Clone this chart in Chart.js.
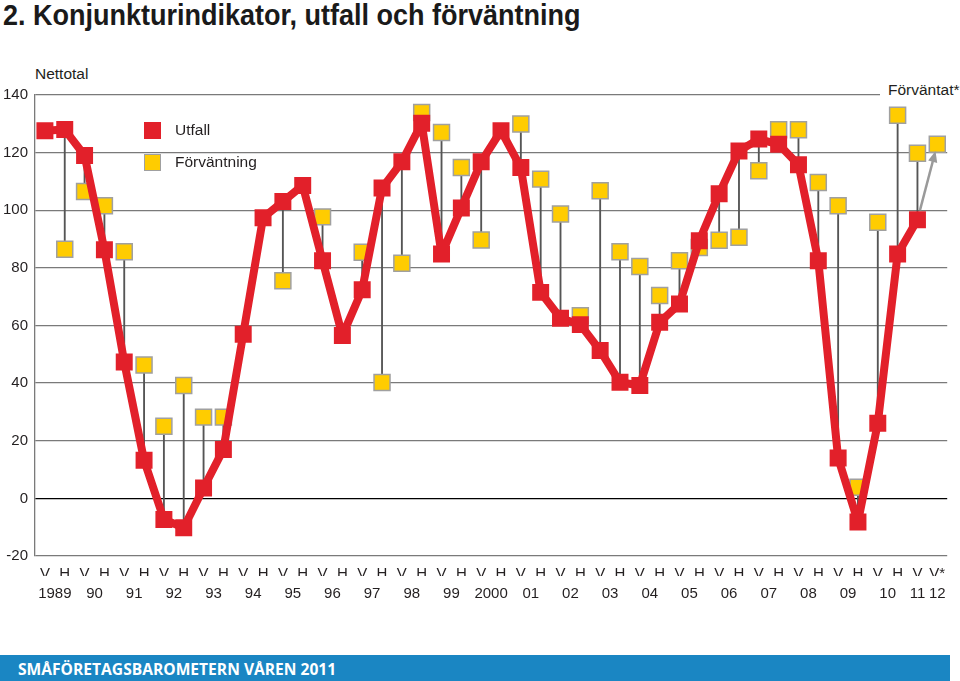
<!DOCTYPE html>
<html>
<head>
<meta charset="utf-8">
<script src="https://cdn.jsdelivr.net/npm/chart.js@4"></script>
<style>
  body { margin: 0; background: #fff; width: 960px; height: 681px; overflow: hidden; position: relative; font-family: "Liberation Sans", Arial, sans-serif; color: #231f20; }
  #c { position: absolute; left: 0; top: 0; }
  .title { position: absolute; left: 3px; top: -2px; font: bold 30px "Liberation Sans", sans-serif; color: #1a1a1a; white-space: nowrap; transform: scaleX(0.9); transform-origin: 0 0; }
  .unit { position: absolute; left: 35px; top: 65px; font-size: 15.5px; }
  .expected { position: absolute; left: 880px; top: 81px; width: 80px; padding-left: 8px; font-size: 15.5px; background: #fff; }
  .leg { position: absolute; left: 144px; font-size: 15.5px; line-height: 18px; }
  .leg span { position: absolute; left: 0; width: 17px; height: 17px; }
  .leg b { font-weight: normal; position: absolute; left: 31px; top: -1px; white-space: nowrap; }
  .footer { position: absolute; left: 0; top: 655px; width: 950px; height: 26px; background: #1a86c3; }
  .footer div { position: absolute; left: 18px; top: 3px; color: #fff; font: bold 15.6px "Open Sans", "Liberation Sans", sans-serif; white-space: nowrap; }
</style>
</head>
<body>
<div class="title">2. Konjunkturindikator, utfall och förväntning</div>
<div class="unit">Nettotal</div>
<canvas id="c" width="960" height="640"></canvas>
<div class="expected">Förväntat*</div>
<div class="leg" style="top:122px"><span style="background:#e2202a"></span><b>Utfall</b></div>
<div class="leg" style="top:154px"><span style="background:#ffcc00;border:1.5px solid #a0a0a0;width:15px;height:15px"></span><b>Förväntning</b></div>
<div class="footer"><div>SMÅFÖRETAGSBAROMETERN VÅREN 2011</div></div>
<script>
// halvår: V = vår, H = höst
var perioder = ['V','H','V','H','V','H','V','H','V','H','V','H','V','H','V','H','V','H','V','H','V','H',
                'V','H','V','H','V','H','V','H','V','H','V','H','V','H','V','H','V','H','V','H','V','H','V','V*'];
var arEtiketter = ['1989','90','91','92','93','94','95','96','97','98','99','2000',
                   '01','02','03','04','05','06','07','08','09','10','11','12'];

var utfall = [127.6, 128, 119, 86.3, 47.3, 13.2, -7.3, -10.2, 3.6, 17, 57, 97.4, 103, 108.6, 82.5, 56.5,
              72.4, 107.7, 116.8, 130.2, 84.8, 100.8, 116.8, 127.6, 114.8, 71.5, 62.5, 60.3, 51.3, 40.3,
              39.2, 61.1, 67.5, 89.4, 105.7, 120.6, 124.7, 122.9, 115.8, 82.5, 14, -8.2, 26.1, 84.8, 96.7, null];
var forvantning = [null, 86.5, 106.5, 101.6, 85.6, 46.3, 25, 39.2, 28.2, 28.2, null, null, 75.5, null, 97.7, null,
                   85.4, 40.2, 81.6, 133.9, 127, 114.8, 89.7, null, 129.9, 110.8, 98.7, 63.4, 106.8, 85.6,
                   80.5, 70.4, 82.5, 87.1, 89.6, 90.6, 113.7, 127.9, 127.9, 109.6, 101.6, 3.9, 95.8, 133, 119.8, 122.9];

var RED = '#e2202a', YELLOW = '#ffcc00';

// tunna lodräta streck mellan utfall och förväntning
var streck = [];
utfall.forEach(function(u, i) {
  if (u !== null && forvantning[i] !== null) streck.push({x: i, y: [u, forvantning[i]]});
});

// varje årsetikett hamnar mitt mellan V och H, sista två under sin egen punkt
var arPos = arEtiketter.map(function(a, i) { return i < 22 ? 2 * i + 0.5 : 22 + i; });

var arrowPlugin = {
  id: 'arrow',
  afterDatasetsDraw: function(chart) {
    var x = chart.scales.x, y = chart.scales.y, ctx = chart.ctx;
    var i = utfall.length - 2;
    var x0 = x.getPixelForValue(i), y0 = y.getPixelForValue(utfall[i]);
    var x1 = x.getPixelForValue(i + 1), y1 = y.getPixelForValue(forvantning[i + 1]);
    var a = Math.atan2(y1 - y0, x1 - x0), len = Math.hypot(x1 - x0, y1 - y0);
    var sx = x0 + Math.cos(a) * 10, sy = y0 + Math.sin(a) * 10;
    var ex = x0 + Math.cos(a) * (len - 7), ey = y0 + Math.sin(a) * (len - 7);
    ctx.save();
    ctx.strokeStyle = '#9a9a9a'; ctx.fillStyle = '#9a9a9a'; ctx.lineWidth = 2.5;
    ctx.beginPath(); ctx.moveTo(sx, sy);
    ctx.lineTo(ex - Math.cos(a) * 8, ey - Math.sin(a) * 8); ctx.stroke();
    ctx.beginPath(); ctx.moveTo(ex, ey);
    ctx.lineTo(ex - Math.cos(a - 0.4) * 12, ey - Math.sin(a - 0.4) * 12);
    ctx.lineTo(ex - Math.cos(a + 0.4) * 12, ey - Math.sin(a + 0.4) * 12);
    ctx.closePath(); ctx.fill();
    ctx.restore();
  }
};

new Chart(document.getElementById('c'), {
  type: 'line',
  data: {
    datasets: [{
      type: 'bar',
      data: streck,
      backgroundColor: '#555',
      barThickness: 1.2,
      order: 3
    }, {
      label: 'Förväntning',
      data: forvantning.map(function(v, i) { return {x: i, y: v}; }),
      showLine: false,
      pointStyle: 'rect',
      pointRadius: 11.3,
      pointBackgroundColor: YELLOW,
      pointBorderColor: '#a0a0a0',
      pointBorderWidth: 1.5,
      order: 2
    }, {
      label: 'Utfall',
      data: utfall.map(function(v, i) { return {x: i, y: v}; }),
      borderColor: RED,
      borderWidth: 8,
      borderJoinStyle: 'round',
      tension: 0,
      pointStyle: 'rect',
      pointRadius: 12,
      pointBackgroundColor: RED,
      pointBorderWidth: 0,
      order: 1
    }]
  },
  options: {
    responsive: false,
    animation: false,
    layout: { padding: { top: 95, right: 10, left: 0, bottom: 40 } },
    plugins: { legend: { display: false }, tooltip: { enabled: false } },
    scales: {
      x: {
        type: 'linear', min: -0.5, max: 45.5, offset: false,
        grid: { display: false, drawTicks: false },
        border: { display: false },
        afterBuildTicks: function(s) { s.ticks = perioder.map(function(p, i) { return {value: i}; }); },
        afterFit: function(s) { s.height = 20; },
        ticks: {
          autoSkip: false, maxRotation: 0, padding: 9,
          color: '#231f20', font: { family: 'Liberation Sans', size: 15 },
          callback: function(v) { return perioder[v]; }
        }
      },
      ar: {
        type: 'linear', position: 'bottom', axis: 'x', weight: 1, min: -0.5, max: 45.5, offset: false,
        grid: { display: false, drawTicks: false },
        border: { display: false },
        afterBuildTicks: function(s) { s.ticks = arPos.map(function(p) { return {value: p}; }); },
        afterFit: function(s) { s.height = 24; },
        ticks: {
          autoSkip: false, maxRotation: 0, padding: 9,
          color: '#231f20', font: { family: 'Liberation Sans', size: 15 },
          callback: function(v, idx) { return arEtiketter[idx]; }
        }
      },
      y: {
        min: -20, max: 140,
        afterFit: function(s) { s.width = 35; },
        grid: {
          drawTicks: false, lineWidth: 1.3,
          color: function(c) { return c.tick && c.tick.value === 0 ? '#000' : '#7a7a7a'; }
        },
        border: { display: true, color: '#7a7a7a', width: 1.3 },
        ticks: {
          stepSize: 20, padding: 7,
          color: '#231f20', font: { family: 'Liberation Sans', size: 15 }
        }
      }
    }
  },
  plugins: [arrowPlugin]
});
</script>
</body>
</html>
